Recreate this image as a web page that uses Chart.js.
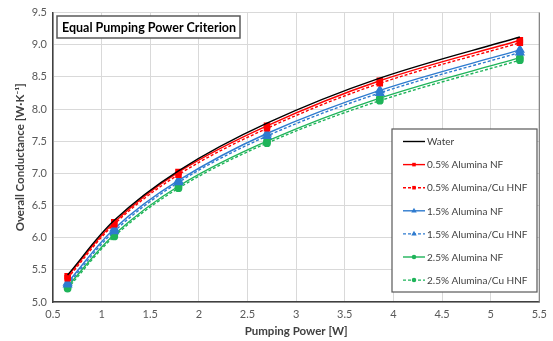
<!DOCTYPE html>
<html>
<head>
<meta charset="utf-8">
<script src="https://cdn.jsdelivr.net/npm/chart.js@4"></script>
<style>
 html,body{margin:0;padding:0;background:#fff;}
 #wrap{width:553px;height:341px;position:relative;}
</style>
</head>
<body>
<div id="wrap"><canvas id="chart"></canvas></div>
<script>
// DATA
const pumpingPower=[0.65,1.13,1.79,2.70,3.86,5.30];
const water      =[5.42,6.27,7.04,7.78,8.48,9.12];
const al05NF     =[5.40,6.24,7.02,7.74,8.44,9.07];
const al05HNF    =[5.37,6.21,6.98,7.70,8.40,9.03];
const al15NF     =[5.30,6.14,6.89,7.62,8.29,8.92];
const al15HNF    =[5.27,6.10,6.86,7.58,8.25,8.88];
const al25NF     =[5.24,6.05,6.80,7.50,8.17,8.80];
const al25HNF    =[5.21,6.02,6.77,7.47,8.13,8.76];
const seriesNames=["Water","0.5% Alumina NF","0.5% Alumina/Cu HNF","1.5% Alumina NF",
  "1.5% Alumina/Cu HNF","2.5% Alumina NF","2.5% Alumina/Cu HNF"];

const RED="#ff0000", BLUE="#2e7bcf", GREEN="#1fb45a";
const FONT="Lato, 'Liberation Sans', sans-serif";

function pts(vals){ return vals.map((v,i)=>({x:pumpingPower[i],y:v})); }
function ds(label,vals,color,style,dashed,r){
  return {label:label,data:pts(vals),borderColor:color,backgroundColor:color,
    borderWidth:1.4,borderDash:dashed?[3,2]:[],pointStyle:style,
    pointRadius:r,pointHoverRadius:r,showLine:true,tension:0.35};
}

// title box + legend drawn inside the plot area
const overlay={
  id:"overlay",
  afterDraw(chart){
    const c=chart.ctx, a=chart.chartArea;
    c.save();
    // frame right
    c.strokeStyle="#7f7f7f"; c.lineWidth=1.2;
    c.beginPath(); c.moveTo(a.right,a.top); c.lineTo(a.right,a.bottom); c.stroke();
    // title box
    c.fillStyle="#fff"; c.fillRect(57,16,183,22);
    c.strokeStyle="#595959"; c.lineWidth=1.5; c.strokeRect(57,16,183,22);
    c.fillStyle="#000"; c.font="bold 12.5px "+FONT; c.textBaseline="middle";
    c.fillText("Equal Pumping Power Criterion",62,27.5);
    // legend
    const lx=392, ly=129, lw=145, lh=163;
    c.fillStyle="#fff"; c.fillRect(lx,ly,lw,lh);
    c.strokeStyle="#595959"; c.lineWidth=1.2; c.strokeRect(lx,ly,lw,lh);
    c.font="10px "+FONT;
    chart.data.datasets.forEach((d,i)=>{
      const y=141.5+i*23.1;
      c.strokeStyle=d.borderColor; c.lineWidth=d.borderWidth;
      c.setLineDash(d.borderDash);
      c.beginPath(); c.moveTo(403,y); c.lineTo(425,y); c.stroke();
      c.setLineDash([]);
      if(d.pointRadius>0){
        c.fillStyle=d.borderColor;
        Chart.helpers.drawPoint(c,{pointStyle:d.pointStyle,radius:d.pointRadius*0.7,borderWidth:0},414,y);
      }
      c.fillStyle="#404040";
      c.fillText(d.label,427,y+0.5);
    });
    c.restore();
  }
};

new Chart(document.getElementById("chart"),{
  type:"scatter",
  data:{datasets:[
    ds(seriesNames[0],water,"#000000","circle",false,0),
    ds(seriesNames[1],al05NF,RED,"rect",false,3.6),
    ds(seriesNames[2],al05HNF,RED,"rect",true,3.6),
    ds(seriesNames[3],al15NF,BLUE,"triangle",false,4.5),
    ds(seriesNames[4],al15HNF,BLUE,"triangle",true,4.5),
    ds(seriesNames[5],al25NF,GREEN,"circle",false,3.2),
    ds(seriesNames[6],al25HNF,GREEN,"circle",true,3.2)
  ]},
  options:{
    responsive:true,maintainAspectRatio:false,animation:false,
    layout:{padding:{left:9,top:11,right:10,bottom:0}},
    plugins:{legend:{display:false},tooltip:{enabled:false}},
    scales:{
      x:{type:"linear",min:0.5,max:5.5,
        afterFit(s){s.height=39;},
        ticks:{stepSize:0.5,padding:6,color:"#595959",font:{family:FONT,size:11},
          callback:v=>String(v)},
        grid:{color:"#d9d9d9",drawTicks:false},
        border:{color:"#404040",width:1.5},
        title:{display:true,text:"Pumping Power [W]",color:"#404040",
          font:{family:FONT,size:11.5,weight:"bold"},padding:{top:2,bottom:3}}
      },
      y:{min:5,max:9.5,
        afterFit(s){s.width=44;},
        ticks:{stepSize:0.25,padding:6,color:"#595959",font:{family:FONT,size:11},
          callback:v=>(Math.abs(v*2-Math.round(v*2))<1e-6)?v.toFixed(1):""},
        grid:{drawTicks:false,
          color:c=>(Math.abs(c.tick.value*2-Math.round(c.tick.value*2))<1e-6)?"#d9d9d9":"#ececec"},
        border:{color:"#404040",width:1.5},
        title:{display:true,text:"Overall Conductance [W·K\u207B\u00B9]",color:"#404040",
          font:{family:FONT,size:11.5,weight:"bold"},padding:{top:4,bottom:2}}
      }
    }
  },
  plugins:[overlay]
});
</script>
</body>
</html>
